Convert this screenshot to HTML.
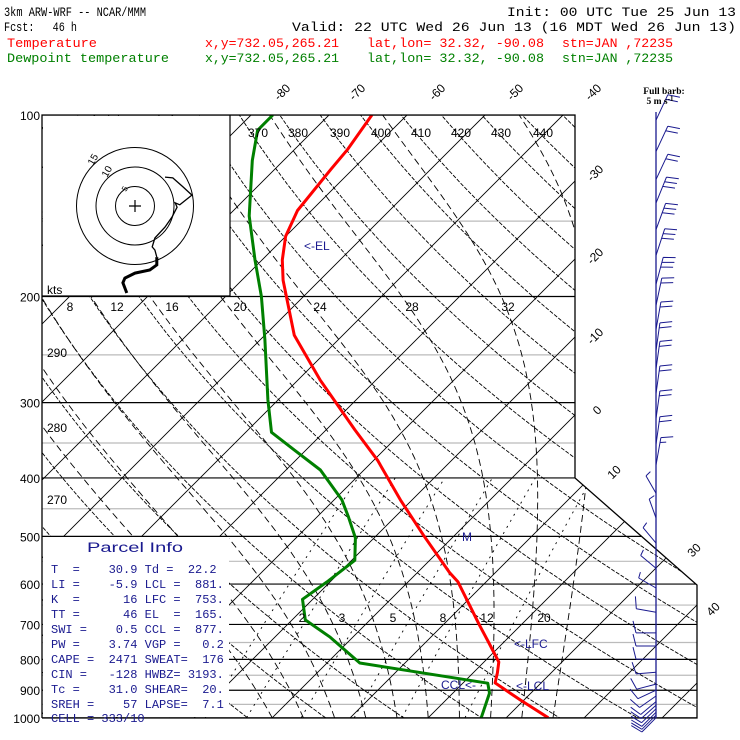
<!DOCTYPE html>
<html><head><meta charset="utf-8"><style>
html,body{margin:0;padding:0;background:#fff;}
svg{display:block;}
svg text{white-space:pre;}
.hdr{font-family:"Liberation Mono",monospace;font-size:13px;}
.lab{font-family:"Liberation Sans",sans-serif;font-size:12px;fill:#000;}
</style></head><body>
<svg id="chart" width="740" height="740" viewBox="0 0 740 740" xmlns="http://www.w3.org/2000/svg">
<rect width="740" height="740" fill="#fff"/>
<defs><clipPath id="plotclip"><polygon points="42,115 575,115 575,478 697,585 697,718 42,718"/></clipPath></defs>

<g class="hdr">
<text x="4" y="16" textLength="142" lengthAdjust="spacingAndGlyphs">3km ARW-WRF -- NCAR/MMM</text>
<text x="507" y="16" textLength="229" lengthAdjust="spacingAndGlyphs">Init: 00 UTC Tue 25 Jun 13</text>
<text x="4" y="31" textLength="73" lengthAdjust="spacingAndGlyphs">Fcst:   46 h</text>
<text x="292" y="31" textLength="444" lengthAdjust="spacingAndGlyphs">Valid: 22 UTC Wed 26 Jun 13 (16 MDT Wed 26 Jun 13)</text>
<g fill="#ff0000">
<text x="7" y="47" textLength="90" lengthAdjust="spacingAndGlyphs">Temperature</text>
<text x="205" y="47" textLength="134" lengthAdjust="spacingAndGlyphs">x,y=732.05,265.21</text>
<text x="367" y="47" textLength="177" lengthAdjust="spacingAndGlyphs">lat,lon= 32.32, -90.08</text>
<text x="562" y="47" textLength="111" lengthAdjust="spacingAndGlyphs">stn=JAN ,72235</text>
</g>
<g fill="#008000">
<text x="7" y="62" textLength="162" lengthAdjust="spacingAndGlyphs">Dewpoint temperature</text>
<text x="205" y="62" textLength="134" lengthAdjust="spacingAndGlyphs">x,y=732.05,265.21</text>
<text x="367" y="62" textLength="177" lengthAdjust="spacingAndGlyphs">lat,lon= 32.32, -90.08</text>
<text x="562" y="62" textLength="111" lengthAdjust="spacingAndGlyphs">stn=JAN ,72235</text>
</g>
</g>

<g id="grid" clip-path="url(#plotclip)"></g>
<g id="profiles" clip-path="url(#plotclip)"></g>
<g id="frame"></g>
<g id="labels"></g>
<g id="hodo"></g>
<g id="barbs"></g>

<g>
<rect x="43" y="537" width="186" height="180" fill="#fff"/>
<text x="87" y="552" font-family="Liberation Sans,sans-serif" font-size="13.5" fill="#1a1a8f" textLength="96" lengthAdjust="spacingAndGlyphs">Parcel Info</text>
<g font-family="Liberation Mono,monospace" font-size="12" fill="#1a1a8f">
<text x="51" y="573">T  =    30.9 Td =  22.2</text>
<text x="51" y="588">LI =    -5.9 LCL =  881.</text>
<text x="51" y="603">K  =      16 LFC =  753.</text>
<text x="51" y="618">TT =      46 EL  =  165.</text>
<text x="51" y="633">SWI =    0.5 CCL =  877.</text>
<text x="51" y="648">PW =    3.74 VGP =   0.2</text>
<text x="51" y="663">CAPE =  2471 SWEAT=  176</text>
<text x="51" y="678">CIN =   -128 HWBZ= 3193.</text>
<text x="51" y="693">Tc =    31.0 SHEAR=  20.</text>
<text x="51" y="708">SREH =    57 LAPSE=  7.1</text>
<text x="51" y="722">CELL = 333/10</text>
</g>
</g>

<g font-family="Liberation Sans,sans-serif" font-size="12" fill="#1a1a8f">
<text x="304" y="250">&lt;-EL</text>
<text x="514" y="648">&lt;-LFC</text>
<text x="441" y="689">CCL&lt;-</text>
<text x="516" y="690">&lt;-LCL</text>
<text x="462" y="541">M</text>
</g>

<g font-family="Liberation Serif,serif" font-weight="bold" font-size="9.5" fill="#000">
<text x="664" y="94" text-anchor="middle">Full barb:</text>
<text x="660" y="104" text-anchor="middle">5 m s<tspan dy="-3" font-size="7">-1</tspan></text>
</g>
</svg>

<script>
// ---- data ----
const tempP = [1000,934,875,842,808,750,702,595,574,497,435,374,333,275,232,188,174,159,144,123,114,100];
const tempC = [35.4,29.5,24.1,23.1,21.9,18.1,14.7,6.4,4.1,-4.1,-11.5,-19.5,-26.3,-37.2,-46.2,-54.7,-57.4,-60,-61.8,-62.8,-63.2,-64.5];
const dewP = [1000,910,876,811,735,688,636,595,548,503,464,435,388,360,336,297,236,200,174,147,119,106,100];
const dewC = [26.8,24.7,23.2,4.2,-2.9,-8.3,-11.3,-10.4,-9.6,-12.4,-16,-19,-25.6,-31.4,-36.7,-41.3,-49.4,-55.4,-60.9,-67.3,-74,-77.2,-77.2];
const barbP = [102,115,128,140,155,171,191,207,227,246,264,290,319,352,381,424,466,513,565,609,668,723,760,799,840,879,900,920,940,953,966,979,990,1000];
const barbDir = [25,25,25,22,20,18,15,12,10,8,8,8,8,8,10,330,340,320,310,300,280,270,270,270,265,255,245,235,230,228,226,225,225,225];
const barbSpd = [10,12,12,15,15,15,15,12,10,10,10,10,10,10,8,4,4,4,4,4,5,6,6,6,5,5,5,5,5,5,5,5,5,5];
const hodoU = [-2.1,-3.1,-2.6,0,3.8,5.6,5.6,5.1,4.4,5.1,7.7,9.5,10.8,10.3,11.5,14.6,12.3,9.7,7.7];
const hodoV = [-22.3,-19.7,-18.5,-17.2,-16.4,-15.1,-13.1,-11.3,-10.5,-8.2,-5.4,-2.8,-0.3,0.8,0.3,2.8,4.9,7.2,7.4];
const isobarsMajor = [100,200,300,400,500,600,700,800,900,1000];
const isobarsMinor = [150,250,350,450,550,650,750,850,950];
const isotherms = [-150,-140,-130,-120,-110,-100,-90,-80,-70,-60,-50,-40,-30,-20,-10,0,10,20,30,40,50];
const thetas = [250,260,270,280,290,300,310,320,330,340,350,360,370,380,390,400,410,420,430,440,450,460];
const thetaW = [0,4,8,12,16,20,24,28,32,36];
const mixRatios = [2,3,5,8,12,20];

// ---- axes ----
const NS='http://www.w3.org/2000/svg';
function yP(p){return 115+261.8*Math.log(p/100);}
function xT(T,p){return 272+7.8*T+(718-yP(p));}
function el(tag,attrs,parent){const e=document.createElementNS(NS,tag);for(const k in attrs)e.setAttribute(k,attrs[k]);parent.appendChild(e);return e;}
const grid=document.getElementById('grid'),prof=document.getElementById('profiles'),frame=document.getElementById('frame'),labels=document.getElementById('labels'),hodo=document.getElementById('hodo'),barbs=document.getElementById('barbs');

isobarsMinor.forEach(p=>{const l=el('line',{x1:42,x2:700,y1:yP(p),y2:yP(p),stroke:'#bbb','stroke-width':1.2},grid);

});
isobarsMajor.forEach(p=>{const l=el('line',{x1:42,x2:700,y1:yP(p),y2:yP(p),stroke:'#000','stroke-width':1.2},grid);

});
isotherms.forEach(T=>{const l=el('line',{x1:xT(T,1000),y1:yP(1000),x2:xT(T,100),y2:yP(100),stroke:'#000','stroke-width':0.9},grid);

});
function path(pts){return pts.map((q,i)=>(i?'L':'M')+q[0].toFixed(1)+','+q[1].toFixed(1)).join('');}
thetas.forEach(th=>{const pts=[];for(let p=1050;p>=100;p-=10){const T=th*Math.pow(p/1000,0.2857)-273.15;pts.push([xT(T,p),yP(p)]);}
const l=el('path',{d:path(pts),fill:'none',stroke:'#000','stroke-width':0.9,'stroke-dasharray':'4,1.5'},grid);

});
function es(T){return 6.112*Math.exp(17.67*T/(T+243.5));}
thetaW.forEach(tw=>{let T=tw+273.15;const pts=[];for(let p=1000;p>=100;p-=5){pts.push([xT(T-273.15,p),yP(p)]);const e=es(T-273.15);const rs=0.622*e/(p-e);const Lv=2.5e6;const d=(287*T+Lv*rs)/(p*(1004+Lv*Lv*rs*0.622/(287*T*T)));T-=d*5;}
const l=el('path',{d:path(pts),fill:'none',stroke:'#000','stroke-width':0.9,'stroke-dasharray':'7,4'},grid);

});
mixRatios.forEach(w=>{const pts=[];for(let p=1000;p>=400;p-=10){const e=w*p/(622+w);const a=Math.log(e/6.112);const Td=243.5*a/(17.67-a);pts.push([xT(Td,p),yP(p)]);}
const l=el('path',{d:path(pts),fill:'none',stroke:'#000','stroke-width':0.9,'stroke-dasharray':'2,5'},grid);

});

const hb=el('rect',{x:43,y:116,width:187,height:180,fill:'#fff'},grid);



const tp=el('path',{d:path(tempP.map((p,i)=>[xT(tempC[i],p),yP(p)])),fill:'none',stroke:'#ff0000','stroke-width':3,'stroke-linejoin':'round'},prof);


const dp=el('path',{d:path(dewP.map((p,i)=>[xT(dewC[i],p),yP(p)])),fill:'none',stroke:'#008000','stroke-width':3,'stroke-linejoin':'round'},prof);



const fr=el('polyline',{points:'42,718 42,115 575,115 575,478 697,585 697,718 42,718',fill:'none',stroke:'#000','stroke-width':1.3},frame);


const hf=el('polyline',{points:'230,115 230,296 42,296',fill:'none',stroke:'#000','stroke-width':1.2},frame);



function txt(s,x,y,opts,name){const t=el('text',Object.assign({x:x,y:y,class:'lab'},opts||{}),labels);t.textContent=s;

return t;}
isobarsMajor.forEach(p=>txt(String(p),40,yP(p)+5,{'text-anchor':'end','font-size':13},'pressure-label'));
[['-80',285,95],['-70',360,95],['-60',440,95],['-50',518,95],['-40',596,95],['-30',598,176],['-20',598,259],['-10',598,339],['0',600,413],['10',617,475],['30',697,553],['40',716,612]].forEach(a=>{
 txt(a[0],a[1],a[2],{'text-anchor':'middle','font-size':14,transform:'rotate(-45 '+a[1]+' '+a[2]+')'},'isotherm-label');});
[['370',258],['380',298],['390',340],['400',381],['410',421],['420',461],['430',501],['440',543]].forEach(a=>txt(a[0],a[1],137,{'text-anchor':'middle'},'theta-label'));
[['290',57,357],['280',57,432],['270',57,504]].forEach(a=>txt(a[0],a[1],a[2],{'text-anchor':'middle'},'theta-label'));
[['8',70],['12',117],['16',172],['20',240],['24',320],['28',412],['32',508]].forEach(a=>txt(a[0],a[1],311,{'text-anchor':'middle'},'moist-adiabat-label'));
[['2',302],['3',342],['5',393],['8',443],['12',487],['20',544]].forEach(a=>txt(a[0],a[1],622,{'text-anchor':'middle'},'mixing-ratio-label'));
txt('kts',47,294,{'font-size':12},'hodograph-units');

const cx=135,cy=206,k=3.9;
[5,10,15].forEach(r=>{const c=el('circle',{cx:cx,cy:cy,r:r*k,fill:'none',stroke:'#000','stroke-width':1},hodo);

});
const cr=el('path',{d:'M129,206H141M135,200V212',stroke:'#000','stroke-width':1.2},hodo);


[['5',126,192,8],['10',107,178,10],['15',93,166,10]].forEach(a=>{const t=el('text',{x:a[1],y:a[2],'font-family':'Liberation Sans,sans-serif','font-size':a[3],transform:'rotate(-60 '+a[1]+' '+a[2]+')'},hodo);t.textContent=a[0];

});
const hpts=hodoU.map((u,i)=>[cx+u*k,cy-hodoV[i]*k]);
const h1=el('path',{d:path(hpts.slice(0,7)),fill:'none',stroke:'#000','stroke-width':3},hodo);


const h2=el('path',{d:path(hpts.slice(6)),fill:'none',stroke:'#000','stroke-width':1.3},hodo);



const staff=el('line',{x1:656,y1:112,x2:656,y2:718,stroke:'#1a1a8f','stroke-width':1.3},barbs);


barbP.forEach((p,i)=>{const d=barbDir[i]*Math.PI/180,s=barbSpd[i];const ux=Math.sin(d),uy=-Math.cos(d);const L=s>=8?28:20;const sx=656,sy=yP(p);
 const ex=sx+L*ux,ey=sy+L*uy;let dstr='M'+sx+','+sy.toFixed(1)+'L'+ex.toFixed(1)+','+ey.toFixed(1);
 const px=Math.cos(d),py=Math.sin(d);const full=Math.floor(s/5),half=(s%5)>=2.5?1:0;let pos=0;
 for(let j=0;j<full;j++){const bx=ex-ux*pos,by=ey-uy*pos;dstr+='M'+bx.toFixed(1)+','+by.toFixed(1)+'l'+(12*px+3*ux).toFixed(1)+','+(12*py+3*uy).toFixed(1);pos+=5;}
 if(half){const bx=ex-ux*pos,by=ey-uy*pos;dstr+='M'+bx.toFixed(1)+','+by.toFixed(1)+'l'+(6*px+1.5*ux).toFixed(1)+','+(6*py+1.5*uy).toFixed(1);}
 const b=el('path',{d:dstr,fill:'none',stroke:'#1a1a8f','stroke-width':1},barbs);
 
 
});
</script>
</body></html>
